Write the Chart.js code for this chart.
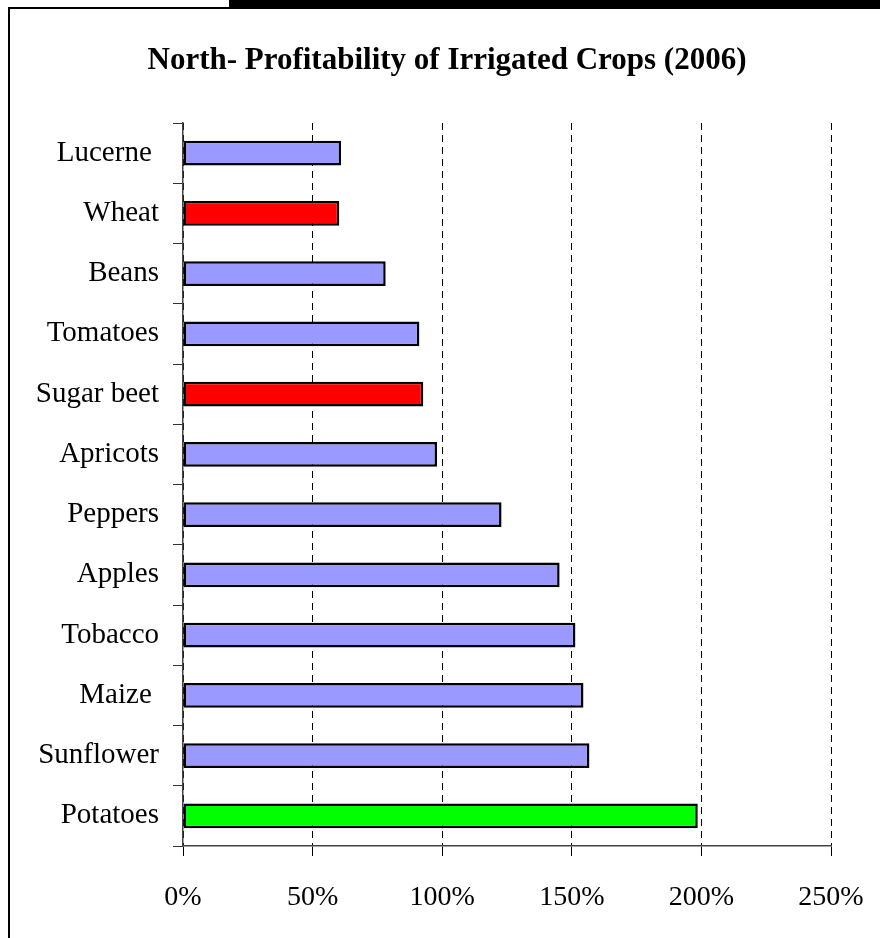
<!DOCTYPE html>
<html>
<head>
<meta charset="utf-8">
<script src="https://cdn.jsdelivr.net/npm/chart.js@4"></script>
<style>
  body { margin: 0; background: #fff; }
  #wrap { position: relative; width: 880px; height: 938px; overflow: hidden; }
  #topbar { position: absolute; left: 229px; top: 0; width: 651px; height: 8px; background: #000; }
  #frameTop { position: absolute; left: 8px; top: 7px; width: 872px; height: 2px; background: #000; }
  #frameLeft { position: absolute; left: 8px; top: 7px; width: 2px; height: 931px; background: #000; }
  #title { position: absolute; left: 0; top: 40px; width: 894px; text-align: center;
           font: bold 31px 'Liberation Serif','Times New Roman',serif; line-height: 37px; color: #000; white-space: nowrap; }
  canvas { position: absolute; left: 0; top: 0; }
</style>
</head>
<body>
<div id="wrap">
  <div id="topbar"></div>
  <div id="frameTop"></div>
  <div id="frameLeft"></div>
  <canvas id="bargraph" width="880" height="938"></canvas>
  <div id="title">North- Profitability of Irrigated Crops (2006)</div>
</div>
<script>
var crops=["Lucerne ","Wheat","Beans","Tomatoes","Sugar beet","Apricots","Peppers","Apples","Tobacco","Maize ","Sunflower","Potatoes"];
var profit=[61,60.3,78.2,91.2,92.7,98,122.9,145.3,151.4,154.5,156.8,198.6];
var xTicks=[0,50,100,150,200,250];

var blue="#9999ff", red="#ff0000", green="#00ff00";
var barColors=[blue,red,blue,blue,red,blue,blue,blue,blue,blue,blue,green];

var serif="'Liberation Serif','Times New Roman',serif";

var ctx=document.getElementById("bargraph");
var chart=new Chart(ctx,{
    type:"bar",
    data:{
        labels:crops,
        datasets:[{
            data:profit,
            backgroundColor:barColors,
            borderColor:"#000",
            borderWidth:2.5,
            borderSkipped:false,
            barPercentage:0.41,
            categoryPercentage:1
        }]
    },
    options:{
        indexAxis:"y",
        responsive:false,
        animation:false,
        devicePixelRatio:1,
        layout:{padding:{left:14,right:49,top:123,bottom:0}},
        plugins:{
            legend:{display:false},
            tooltip:{enabled:false},
            title:{display:false}
        },
        scales:{
            x:{
                min:0,
                max:250,
                afterBuildTicks:function(scale){
                    scale.ticks=xTicks.map(function(v){return {value:v};});
                },
                afterFit:function(scale){ scale.height=92; },
                ticks:{
                    color:"#000",
                    padding:16,
                    font:{family:serif,size:28,lineHeight:1.8},
                    callback:function(v){return v+"%";}
                },
                grid:{color:"#000",lineWidth:1,tickLength:10,tickColor:"#000"},
                border:{color:"#444",width:1.5,dash:[7,5]}
            },
            y:{
                afterFit:function(scale){ scale.width=169; },
                ticks:{
                    color:"#000",
                    padding:14,
                    font:{family:serif,size:29}
                },
                grid:{drawOnChartArea:false,tickLength:10,color:"#333",offset:true},
                border:{color:"#444",width:1.5}
            }
        }
    }
});
</script>
</body>
</html>
